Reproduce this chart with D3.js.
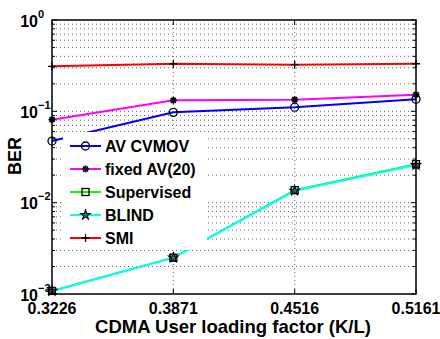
<!DOCTYPE html>
<html>
<head>
<meta charset="utf-8">
<script src="https://cdn.jsdelivr.net/npm/d3@7"></script>
<style>
body { margin: 0; background: #fff; }
svg { display: block; font-family: "Liberation Sans", Arial, sans-serif; font-weight: bold; }
</style>
</head>
<body>
<svg id="chart" width="440" height="339"></svg>
<script>
// loading factors (K/L) and BER values
var loading = [0.3226, 0.3871, 0.4516, 0.5161];
var avCvmov = [0.0473, 0.0975, 0.111, 0.136];
var fixedAv = [0.081, 0.132, 0.134, 0.152];
var supervised = [0.00108, 0.0025, 0.0137, 0.0264];
var blind = [0.00108, 0.0025, 0.0135, 0.0258];
var smi = [0.311, 0.332, 0.324, 0.332];
var seriesNames = ["AV CVMOV", "fixed AV(20)", "Supervised", "BLIND", "SMI"];
var yDecades = [-3, -2, -1, 0];

var series = [
	{name: seriesNames[0], values: avCvmov, color: "#0000ff", marker: "circle"},
	{name: seriesNames[1], values: fixedAv, color: "#ff00ff", marker: "asterisk"},
	{name: seriesNames[2], values: supervised, color: "#00ff00", marker: "square"},
	{name: seriesNames[3], values: blind, color: "#00ffff", marker: "star"},
	{name: seriesNames[4], values: smi, color: "#ff0000", marker: "plus"}
];

var pLeft = 52, pRight = 416, pTop = 20, pBottom = 294;
var svg = d3.select("#chart");

var x = d3.scaleLinear().domain([loading[0], loading[loading.length - 1]]).range([pLeft, pRight]);
var y = d3.scaleLog().domain([1e-3, 1]).range([pBottom, pTop]);

// grid
var minor = [];
yDecades.slice(0, 3).forEach(function(e) {
	for (var m = 2; m <= 9; m++) minor.push(m * Math.pow(10, e));
});
var majors = yDecades.map(function(e) { return Math.pow(10, e); });

var grid = svg.append("g").attr("stroke", "#555").attr("stroke-width", 0.9).attr("stroke-dasharray", "1,3");
grid.selectAll(".hg").data(minor.concat(majors.slice(1, 3))).enter().append("line")
	.attr("x1", pLeft).attr("x2", pRight)
	.attr("y1", function(d) { return y(d); }).attr("y2", function(d) { return y(d); });
grid.selectAll(".vg").data(loading.slice(1, 3)).enter().append("line")
	.attr("y1", pTop).attr("y2", pBottom)
	.attr("x1", function(d) { return x(d); }).attr("x2", function(d) { return x(d); });

// ticks (inside, on all four sides)
var ticks = svg.append("g").attr("stroke", "#000").attr("stroke-width", 1);
majors.forEach(function(v) {
	ticks.append("line").attr("x1", pLeft).attr("x2", pLeft + 5).attr("y1", y(v)).attr("y2", y(v));
	ticks.append("line").attr("x1", pRight).attr("x2", pRight - 5).attr("y1", y(v)).attr("y2", y(v));
});
minor.forEach(function(v) {
	ticks.append("line").attr("x1", pLeft).attr("x2", pLeft + 3).attr("y1", y(v)).attr("y2", y(v));
	ticks.append("line").attr("x1", pRight).attr("x2", pRight - 3).attr("y1", y(v)).attr("y2", y(v));
});
loading.forEach(function(v) {
	ticks.append("line").attr("x1", x(v)).attr("x2", x(v)).attr("y1", pBottom).attr("y2", pBottom - 5);
	ticks.append("line").attr("x1", x(v)).attr("x2", x(v)).attr("y1", pTop).attr("y2", pTop + 5);
});

// lines
var line = d3.line()
	.x(function(d, i) { return x(loading[i]); })
	.y(function(d) { return y(d); });

series.forEach(function(s) {
	svg.append("path").datum(s.values)
		.attr("d", line).attr("fill", "none")
		.attr("stroke", s.color).attr("stroke-width", 2);
});

function drawMarker(g, type, cx, cy) {
	if (type == "circle") {
		g.append("circle").attr("cx", cx).attr("cy", cy).attr("r", 4)
			.attr("fill", "none").attr("stroke", "#000").attr("stroke-width", 1.3);
	} else if (type == "square") {
		g.append("rect").attr("x", cx - 3.5).attr("y", cy - 3.5).attr("width", 7).attr("height", 7)
			.attr("fill", "none").attr("stroke", "#000").attr("stroke-width", 1.3);
	} else if (type == "star") {
		g.append("path").attr("d", d3.symbol().type(d3.symbolStar).size(28)())
			.attr("transform", "translate(" + cx + "," + cy + ")")
			.attr("fill", "#000").attr("fill-opacity", 0.5).attr("stroke", "#000").attr("stroke-width", 1.1);
	} else if (type == "plus") {
		g.append("path").attr("d", "M" + (cx - 4) + "," + cy + "h8M" + cx + "," + (cy - 4) + "v8")
			.attr("stroke", "#000").attr("stroke-width", 1.3);
	} else if (type == "asterisk") {
		g.append("path").attr("d", "M" + (cx - 3.5) + "," + cy + "h7M" + cx + "," + (cy - 3.5) + "v7" +
			"M" + (cx - 2.5) + "," + (cy - 2.5) + "l5,5M" + (cx - 2.5) + "," + (cy + 2.5) + "l5,-5")
			.attr("stroke", "#000").attr("stroke-width", 1.7);
	}
}

var marks = svg.append("g");
series.forEach(function(s) {
	s.values.forEach(function(v, i) {
		drawMarker(marks, s.marker, x(loading[i]), y(v));
	});
});

// axes box
svg.append("rect").attr("x", pLeft).attr("y", pTop).attr("width", pRight - pLeft).attr("height", pBottom - pTop)
	.attr("fill", "none").attr("stroke", "#000").attr("stroke-width", 1.5);

// y tick labels 10^e
yDecades.forEach(function(e) {
	svg.append("text").attr("x", 38).attr("y", y(Math.pow(10, e)) + 6.5)
		.attr("text-anchor", "end").attr("font-size", 16).text("10");
	svg.append("text").attr("x", 38).attr("y", y(Math.pow(10, e)) - 2.5)
		.attr("font-size", 11).text(e == 0 ? "0" : "\u2212" + (-e));
});

// x tick labels
svg.selectAll(".xl").data(loading).enter().append("text")
	.attr("x", function(d) { return x(d); }).attr("y", 314)
	.attr("text-anchor", "middle").attr("font-size", 16)
	.text(function(d) { return d.toFixed(4); });

svg.append("text").attr("x", 233).attr("y", 333).attr("text-anchor", "middle")
	.attr("font-size", 18.5).text("CDMA User loading factor (K/L)");
svg.append("text").attr("transform", "translate(21,156) rotate(-90)")
	.attr("text-anchor", "middle").attr("font-size", 18).text("BER");

// legend
var legend = svg.append("g");
legend.append("rect").attr("x", 63).attr("y", 132).attr("width", 144).attr("height", 118).attr("fill", "#fff");
series.forEach(function(s, i) {
	var ly = 146 + i * 23;
	legend.append("line").attr("x1", 70).attr("x2", 101).attr("y1", ly).attr("y2", ly)
		.attr("stroke", s.color).attr("stroke-width", 2);
	drawMarker(legend, s.marker, 85.5, ly);
	legend.append("text").attr("x", 105).attr("y", ly + 6).attr("font-size", 16).text(s.name);
});
</script>
</body>
</html>
